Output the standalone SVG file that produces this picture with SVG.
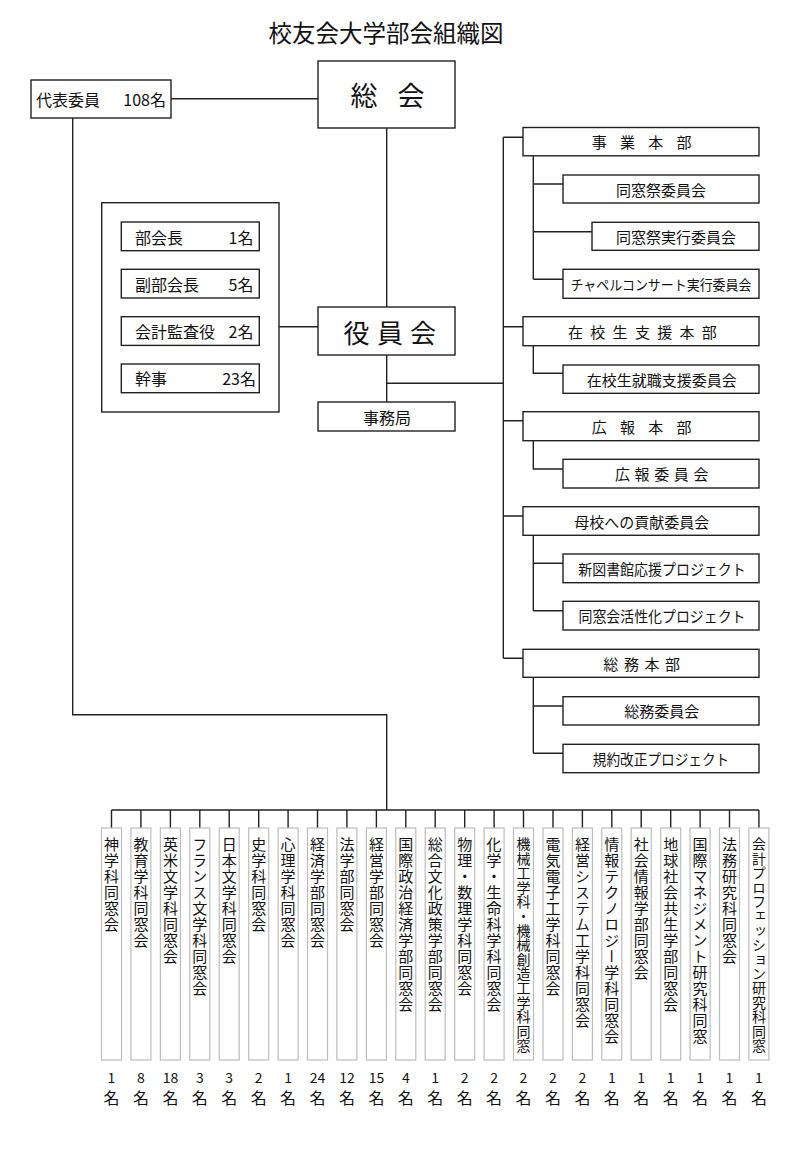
<svg xmlns="http://www.w3.org/2000/svg" width="800" height="1160" viewBox="0 0 800 1160">
<style>
text{font-family:"Noto Sans CJK JP","Noto Sans CJK SC",sans-serif;fill:#111;}
.box{fill:#fff;stroke:#222;stroke-width:1.4;}
.col{fill:#fff;stroke:#bdbdbd;stroke-width:1.2;}
.ln{fill:none;stroke:#222;stroke-width:1.4;}
.t15{font-size:15px;dominant-baseline:central;text-anchor:middle;}
.t16{font-size:16px;dominant-baseline:central;}
.v{font-size:15px;writing-mode:vertical-rl;letter-spacing:1px;}
.vs{font-size:14px;writing-mode:vertical-rl;letter-spacing:0.4px;}
.num{font-size:14px;text-anchor:middle;}
.mei{font-size:16px;text-anchor:middle;}
</style>
<rect width="800" height="1160" fill="#fff"/>
<text x="386" y="32" style="font-size:23.5px;dominant-baseline:central;text-anchor:middle">校友会大学部会組織図</text>

<g id="connectors">
<path class="ln" d="M171,98.7H318"/>
<path class="ln" d="M386.7,127.7V307"/>
<path class="ln" d="M386.7,355V402"/>
<path class="ln" d="M386.7,383.3H503.3"/>
<path class="ln" d="M279,326.7H318"/>
<path class="ln" d="M503.3,137.3V658.3"/>
<path class="ln" d="M503.3,137.3H523M503.3,326.7H523M503.3,420.7H523M503.3,516H523M503.3,658.3H523"/>
<path class="ln" d="M533.3,155.7V279.3M533.3,184H563M533.3,231.7H592M533.3,279.3H563"/>
<path class="ln" d="M533.3,345.7V373.3H563"/>
<path class="ln" d="M533.3,440.7V469H563"/>
<path class="ln" d="M533.3,535.3V610.7M533.3,563.3H563M533.3,610.7H563"/>
<path class="ln" d="M533.3,677.3V753.3M533.3,706H563M533.3,753.3H563"/>
<path class="ln" d="M72.7,118V714.7H386.7V810"/>
<path class="ln" d="M111.5,810H758.9"/>
<path class="ln" d="M111.5,810V828M140.9,810V828M170.4,810V828M199.8,810V828M229.2,810V828M258.7,810V828M288.1,810V828M317.5,810V828M346.9,810V828M376.4,810V828M405.8,810V828M435.2,810V828M464.7,810V828M494.1,810V828M523.5,810V828M553,810V828M582.4,810V828M611.8,810V828M641.2,810V828M670.7,810V828M700.1,810V828M729.5,810V828M758.9,810V828"/>
</g>

<g id="daihyo">
<rect class="box" x="31" y="80" width="140" height="38"/>
<text class="t16" x="36" y="99">代表委員</text>
<text class="t16" x="166" y="99" style="text-anchor:end">108名</text>
</g>

<g id="sokai">
<rect class="box" x="318" y="61" width="137" height="67"/>
<text x="364 411" y="94" style="font-size:27px;dominant-baseline:central;text-anchor:middle">総会</text>
</g>

<g id="yakuinkai">
<rect class="box" x="318" y="307" width="137" height="48"/>
<text x="356.5 390 423" y="331" style="font-size:26px;dominant-baseline:central;text-anchor:middle">役員会</text>
</g>

<g id="jimukyoku">
<rect class="box" x="318" y="402" width="137" height="29"/>
<text class="t16" x="387" y="416.5" style="text-anchor:middle">事務局</text>
</g>

<g id="officers">
<rect class="box" x="101.7" y="202.7" width="177.3" height="209.3"/>
<rect class="box" x="121.3" y="222" width="138" height="28.7"/>
<text class="t16" x="135" y="236.5">部会長</text>
<text class="t16" x="253.5" y="236.5" style="text-anchor:end">1名</text>
<rect class="box" x="121.3" y="269.3" width="138" height="28.7"/>
<text class="t16" x="135" y="283.7">副部会長</text>
<text class="t16" x="253.5" y="283.7" style="text-anchor:end">5名</text>
<rect class="box" x="121.3" y="316.7" width="138" height="28.7"/>
<text class="t16" x="135" y="331">会計監査役</text>
<text class="t16" x="253.5" y="331" style="text-anchor:end">2名</text>
<rect class="box" x="121.3" y="364" width="138" height="28.7"/>
<text class="t16" x="135" y="378.4">幹事</text>
<text class="t16" x="256" y="378.4" style="text-anchor:end">23名</text>
</g>

<g id="jigyo">
<rect class="box" x="523" y="127.5" width="236" height="28.3"/>
<text class="t15" x="599.2 627.5 655.8 684.1" y="141.5">事業本部</text>
</g>
<g id="dososai">
<rect class="box" x="563" y="175" width="196" height="28"/>
<text class="t15" x="661" y="189">同窓祭委員会</text>
</g>
<g id="dososai-jikko">
<rect class="box" x="592" y="222.3" width="167" height="28"/>
<text class="t15" x="676" y="236.3">同窓祭実行委員会</text>
</g>
<g id="chapel">
<rect class="box" x="563" y="269.3" width="196" height="29"/>
<text class="t15" x="661" y="283.8" style="font-size:14px" textLength="181" lengthAdjust="spacingAndGlyphs">チャペルコンサート実行委員会</text>
</g>

<g id="zaikosei">
<rect class="box" x="523" y="316.7" width="236" height="29"/>
<text class="t15" x="575.5 597.8 620.1 642.4 664.7 687 709.3" y="331.2">在校生支援本部</text>
</g>
<g id="shushoku">
<rect class="box" x="563" y="365" width="196" height="28.3"/>
<text class="t15" x="661.7" y="379.2">在校生就職支援委員会</text>
</g>

<g id="koho">
<rect class="box" x="523" y="411.7" width="236" height="29"/>
<text class="t15" x="599.2 627.5 655.8 684.1" y="426.2">広報本部</text>
</g>
<g id="koho-iinkai">
<rect class="box" x="563" y="459.3" width="196" height="28.7"/>
<text class="t15" x="622.5 642.1 661.7 681.3 700.9" y="473.7">広報委員会</text>
</g>

<g id="bokou">
<rect class="box" x="523" y="506.7" width="236" height="28.6"/>
<text class="t15" x="641.7" y="521">母校への貢献委員会</text>
</g>
<g id="toshokan">
<rect class="box" x="563" y="554" width="196" height="28.7"/>
<text class="t15" x="662" y="568.3" textLength="167.5" lengthAdjust="spacingAndGlyphs">新図書館応援プロジェクト</text>
</g>
<g id="kasseika">
<rect class="box" x="563" y="601.3" width="196" height="28.7"/>
<text class="t15" x="662" y="615.6" textLength="167" lengthAdjust="spacingAndGlyphs">同窓会活性化プロジェクト</text>
</g>

<g id="somu">
<rect class="box" x="523" y="649.3" width="236" height="28"/>
<text class="t15" x="610.8 631.4 652 672.6" y="663.3">総務本部</text>
</g>
<g id="somu-iinkai">
<rect class="box" x="563" y="696.7" width="196" height="28.3"/>
<text class="t15" x="661.7" y="710.8">総務委員会</text>
</g>
<g id="kiyaku">
<rect class="box" x="563" y="744.3" width="196" height="28.4"/>
<text class="t15" x="661" y="758.5" textLength="136.5" lengthAdjust="spacingAndGlyphs">規約改正プロジェクト</text>
</g>

<g id="c01"><rect class="col" x="101.5" y="828" width="20" height="232"/><text class="v" x="111.5" y="837">神学科同窓会</text><text class="num" x="111.5" y="1083">1</text><text class="mei" x="111.5" y="1104">名</text></g>
<g id="c02"><rect class="col" x="130.9" y="828" width="20" height="232"/><text class="v" x="140.9" y="837">教育学科同窓会</text><text class="num" x="140.9" y="1083">8</text><text class="mei" x="140.9" y="1104">名</text></g>
<g id="c03"><rect class="col" x="160.4" y="828" width="20" height="232"/><text class="v" x="170.4" y="837">英米文学科同窓会</text><text class="num" x="170.4" y="1083">18</text><text class="mei" x="170.4" y="1104">名</text></g>
<g id="c04"><rect class="col" x="189.8" y="828" width="20" height="232"/><text class="v" x="199.8" y="837">フランス文学科同窓会</text><text class="num" x="199.8" y="1083">3</text><text class="mei" x="199.8" y="1104">名</text></g>
<g id="c05"><rect class="col" x="219.2" y="828" width="20" height="232"/><text class="v" x="229.2" y="837">日本文学科同窓会</text><text class="num" x="229.2" y="1083">3</text><text class="mei" x="229.2" y="1104">名</text></g>
<g id="c06"><rect class="col" x="248.7" y="828" width="20" height="232"/><text class="v" x="258.7" y="837">史学科同窓会</text><text class="num" x="258.7" y="1083">2</text><text class="mei" x="258.7" y="1104">名</text></g>
<g id="c07"><rect class="col" x="278.1" y="828" width="20" height="232"/><text class="v" x="288.1" y="837">心理学科同窓会</text><text class="num" x="288.1" y="1083">1</text><text class="mei" x="288.1" y="1104">名</text></g>
<g id="c08"><rect class="col" x="307.5" y="828" width="20" height="232"/><text class="v" x="317.5" y="837">経済学部同窓会</text><text class="num" x="317.5" y="1083">24</text><text class="mei" x="317.5" y="1104">名</text></g>
<g id="c09"><rect class="col" x="336.9" y="828" width="20" height="232"/><text class="v" x="346.9" y="837">法学部同窓会</text><text class="num" x="346.9" y="1083">12</text><text class="mei" x="346.9" y="1104">名</text></g>
<g id="c10"><rect class="col" x="366.4" y="828" width="20" height="232"/><text class="v" x="376.4" y="837">経営学部同窓会</text><text class="num" x="376.4" y="1083">15</text><text class="mei" x="376.4" y="1104">名</text></g>
<g id="c11"><rect class="col" x="395.8" y="828" width="20" height="232"/><text class="v" x="405.8" y="837">国際政治経済学部同窓会</text><text class="num" x="405.8" y="1083">4</text><text class="mei" x="405.8" y="1104">名</text></g>
<g id="c12"><rect class="col" x="425.2" y="828" width="20" height="232"/><text class="v" x="435.2" y="837">総合文化政策学部同窓会</text><text class="num" x="435.2" y="1083">1</text><text class="mei" x="435.2" y="1104">名</text></g>
<g id="c13"><rect class="col" x="454.7" y="828" width="20" height="232"/><text class="v" x="464.7" y="837">物理・数理学科同窓会</text><text class="num" x="464.7" y="1083">2</text><text class="mei" x="464.7" y="1104">名</text></g>
<g id="c14"><rect class="col" x="484.1" y="828" width="20" height="232"/><text class="v" x="494.1" y="837">化学・生命科学科同窓会</text><text class="num" x="494.1" y="1083">2</text><text class="mei" x="494.1" y="1104">名</text></g>
<g id="c15"><rect class="col" x="513.5" y="828" width="20" height="232"/><text class="vs" x="523.5" y="837">機械工学科・機械創造工学科同窓</text><text class="num" x="523.5" y="1083">2</text><text class="mei" x="523.5" y="1104">名</text></g>
<g id="c16"><rect class="col" x="543" y="828" width="20" height="232"/><text class="v" x="553" y="837">電気電子工学科同窓会</text><text class="num" x="553" y="1083">2</text><text class="mei" x="553" y="1104">名</text></g>
<g id="c17"><rect class="col" x="572.4" y="828" width="20" height="232"/><text class="v" x="582.4" y="837">経営システム工学科同窓会</text><text class="num" x="582.4" y="1083">2</text><text class="mei" x="582.4" y="1104">名</text></g>
<g id="c18"><rect class="col" x="601.8" y="828" width="20" height="232"/><text class="v" x="611.8" y="837">情報テクノロジー学科同窓会</text><text class="num" x="611.8" y="1083">1</text><text class="mei" x="611.8" y="1104">名</text></g>
<g id="c19"><rect class="col" x="631.2" y="828" width="20" height="232"/><text class="v" x="641.2" y="837">社会情報学部同窓会</text><text class="num" x="641.2" y="1083">1</text><text class="mei" x="641.2" y="1104">名</text></g>
<g id="c20"><rect class="col" x="660.7" y="828" width="20" height="232"/><text class="v" x="670.7" y="837">地球社会共生学部同窓会</text><text class="num" x="670.7" y="1083">1</text><text class="mei" x="670.7" y="1104">名</text></g>
<g id="c21"><rect class="col" x="690.1" y="828" width="20" height="232"/><text class="v" x="700.1" y="837">国際マネジメント研究科同窓</text><text class="num" x="700.1" y="1083">1</text><text class="mei" x="700.1" y="1104">名</text></g>
<g id="c22"><rect class="col" x="719.5" y="828" width="20" height="232"/><text class="v" x="729.5" y="837">法務研究科同窓会</text><text class="num" x="729.5" y="1083">1</text><text class="mei" x="729.5" y="1104">名</text></g>
<g id="c23"><rect class="col" x="748.9" y="828" width="20" height="232"/><text class="vs" x="758.9" y="837">会計プロフェッション研究科同窓</text><text class="num" x="758.9" y="1083">1</text><text class="mei" x="758.9" y="1104">名</text></g>
</svg>
